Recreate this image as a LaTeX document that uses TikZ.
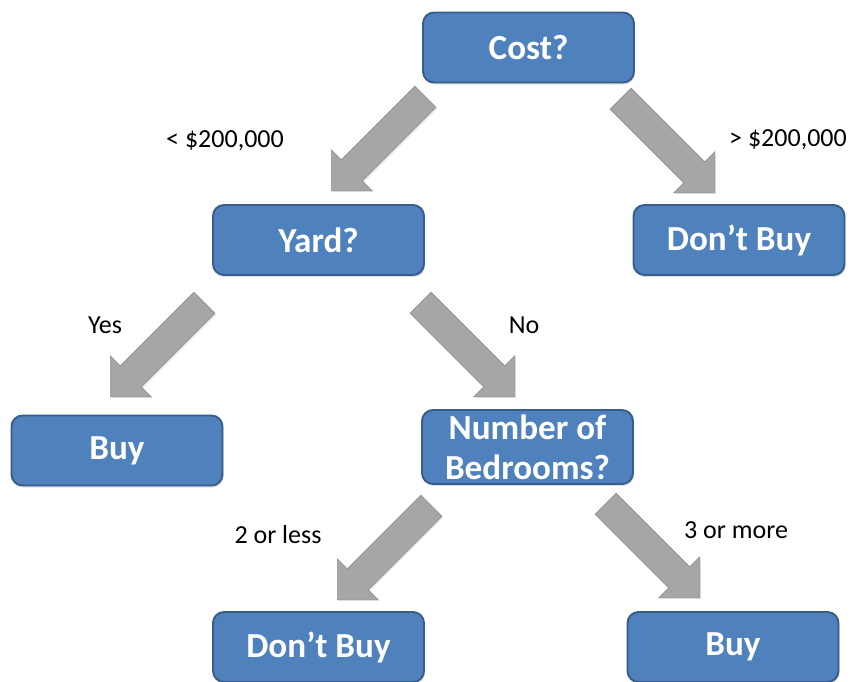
\documentclass[tikz,border=0pt]{standalone}
\usepackage{fontspec}
\setmainfont{Carlito}
\usetikzlibrary{shapes.arrows,shadows}

\definecolor{boxblue}{RGB}{79,129,189}
\definecolor{boxedge}{RGB}{56,93,138}
\definecolor{arrowgray}{RGB}{166,166,166}
\definecolor{arrowedge}{RGB}{145,145,145}

\tikzset{
  decision/.style={draw=boxedge, line width=1.1pt, fill=boxblue, rounded corners=0.22cm,
    minimum width=4.22cm, minimum height=1.4cm, inner sep=0pt, text=white, align=center,
    font=\fontsize{20}{23}\selectfont\bfseries,
    drop shadow={shadow xshift=0.6pt, shadow yshift=-1.2pt, opacity=0.25}},
  branch/.style={single arrow, draw=arrowedge, fill=arrowgray, line width=0.4pt,
    minimum height=2.66cm, inner xsep=0pt, inner ysep=0.29cm,
    single arrow head extend=0.28cm, single arrow tip angle=90, anchor=tip,
    drop shadow={shadow xshift=0.8pt, shadow yshift=-0.8pt, opacity=0.2}},
  choice/.style={font=\fontsize{14.8}{17}\selectfont}
}

\begin{document}
\begin{tikzpicture}[x=0.02cm, y=-0.02cm]
    \useasboundingbox (0,0) rectangle (853,681);

    % questions and answers
    \node[decision] (cost)     at (528.5, 47.5) {Cost?};
    \node[decision] (yard)     at (318.5, 240)  {Yard?};
    \node[decision] (nobuy)    at (739, 240)    {Don’t Buy};
    \node[decision] (buy)      at (117, 450.5)  {Buy};
    \node[decision, minimum height=1.48cm] (rooms) at (527.5, 447) {Number of\\Bedrooms?};
    \node[decision] (fewrooms) at (318.5, 647)  {Don’t Buy};
    \node[decision] (manyrooms) at (733, 647)   {Buy};

    % branches, placed by their tips
    \node[branch, rotate=-135] (cheap)  at (331, 191) {};
    \node[branch, rotate=-45]  (dear)   at (715, 193) {};
    \node[branch, rotate=-135] (hasyard) at (110, 397) {};
    \node[branch, rotate=-45]  (noyard) at (515, 397) {};
    \node[branch, rotate=-135] (small)  at (337, 600) {};
    \node[branch, rotate=-45]  (large)  at (700, 598) {};

    % branch labels
    \node[choice] (lcheap)   at (225, 141) {< \$200,000};
    \node[choice] (ldear)    at (788, 140) {> \$200,000};
    \node[choice] (lhasyard) at (105, 325) {Yes};
    \node[choice] (lnoyard)  at (524, 325) {No};
    \node[choice] (lsmall)   at (278, 535) {2 or less};
    \node[choice] (llarge)   at (736, 530) {3 or more};
\end{tikzpicture}
\end{document}
